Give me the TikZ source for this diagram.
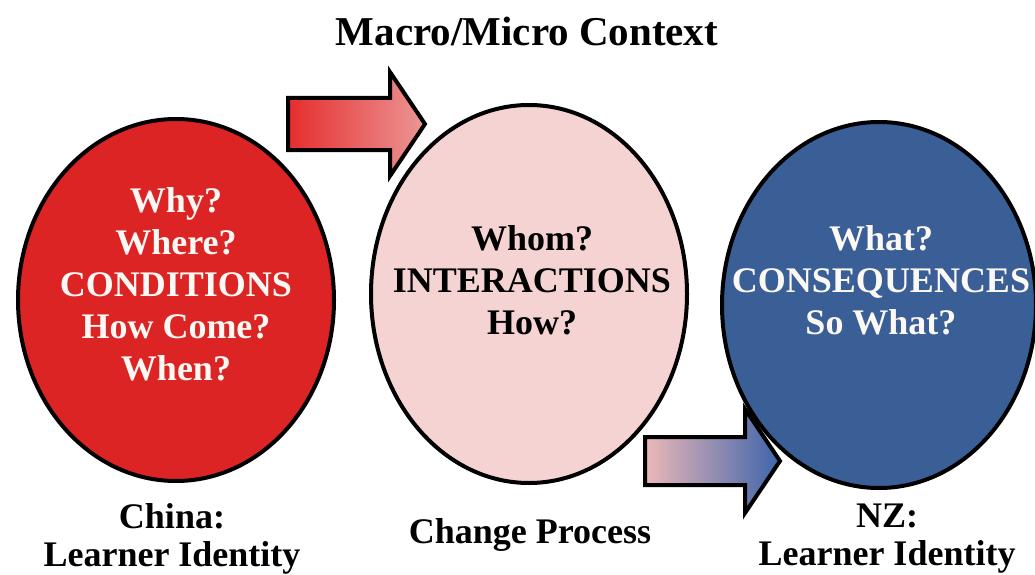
\documentclass[tikz,border=0pt]{standalone}
\usepackage{fontspec}
\setmainfont{Liberation Serif}
\usetikzlibrary{shapes.geometric,positioning}

\definecolor{condred}{RGB}{221,36,36}
\definecolor{interpink}{RGB}{246,211,211}
\definecolor{consblue}{RGB}{58,94,150}
\definecolor{arrred}{RGB}{230,45,45}
\definecolor{arrpink}{RGB}{236,150,150}
\definecolor{arrrose}{RGB}{236,184,184}
\definecolor{arrblue}{RGB}{62,100,170}
\definecolor{qwhite}{RGB}{252,248,244}

\tikzset{
  blob/.style={ellipse, draw=black, line width=4pt, inner sep=0pt,
    minimum width=316pt, minimum height=362pt},
  qtext/.style={font=\fontsize{36}{42}\selectfont\bfseries, align=center},
  captext/.style={font=\fontsize{36}{38}\selectfont\bfseries, align=center},
  blockarrow/.style={draw=black, line width=4pt},
}

\begin{document}
\begin{tikzpicture}[x=1pt,y=-1pt]
\useasboundingbox (0,0) rectangle (1035,575);
\fill[white] (0,0) rectangle (1035,575);

\node[captext, font=\fontsize{41}{45}\selectfont\bfseries] (title) at (527,31) {Macro/Micro Context};

% block arrows, shaded from one stage colour to the next
\draw[blockarrow, left color=arrred, right color=arrpink]
  (288,98) -- (390,98) -- (390,72) -- (425,124) -- (390,176) -- (390,150) -- (288,150) -- cycle;
\draw[blockarrow, left color=arrrose, right color=arrblue]
  (645,437) -- (745,437) -- (745,409) -- (780,461) -- (745,513) -- (745,485) -- (645,485) -- cycle;

% the three stages
\node[blob, fill=condred] (cond) at (176,300) {};
\node[blob, fill=interpink, minimum height=378pt] (inter) at (529,294) {};
\node[blob, fill=consblue, minimum height=366pt, minimum width=314pt] (cons) at (879,305) {};

\node[qtext, text=qwhite] (condtxt) at (176,284) {Why?\\Where?\\CONDITIONS\\How Come?\\When?};
\node[qtext] (intertxt) at (532,280) {Whom?\\INTERACTIONS\\How?};
\node[qtext, text=qwhite] (constxt) at (881,280) {What?\\CONSEQUENCES\\So What?};

% captions under each stage
\node[captext] (china) at (172,539) {China:\\Learner Identity};
\node[captext] (change) at (530,535) {Change Process};
\node[captext] (nz) at (887,539) {NZ:\\Learner Identity};
\end{tikzpicture}
\end{document}
